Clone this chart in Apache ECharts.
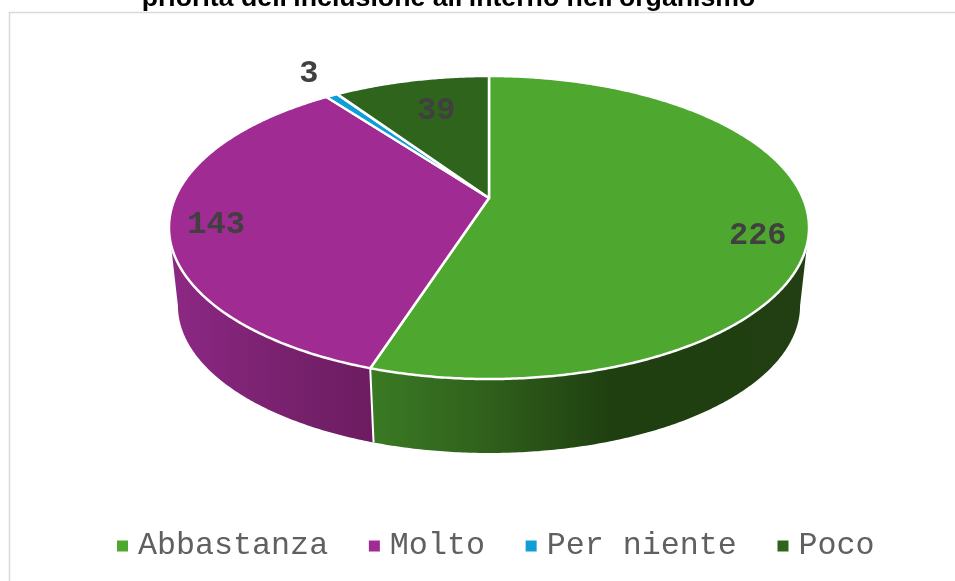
<!DOCTYPE html>
<html>
<head>
<meta charset="utf-8">
<style>html,body{margin:0;padding:0;background:#fff;overflow:hidden}#c{width:955px;height:581px}</style>
<script src="https://cdn.jsdelivr.net/npm/echarts@6/dist/echarts.min.js"></script>
</head>
<body>
<div id="c"></div>
<script>
var titleText = "priorità dell'inclusione all'interno nell'organismo";
var categories = ['Abbastanza', 'Molto', 'Per niente', 'Poco'];
var values = [226, 143, 3, 39];
var colors = ['#4ea72e', '#a02b93', '#0f9ed5', '#2e641c'];

// Projection of the tilted disc (perspective), in pixels
var view = { cx: 489, topY: 198, bottomY: 277, a: 145.8, b: 313.9, k: 0.1947, baseScale: 0.972 };
// Label nudges from the rim point of each slice's middle angle
var labelNudge = [[-51, 14], [47, 2], [-23, -22], [25, 30]];
// Wall shading across x, for the slices that show a wall
var wallShade = [
  { from: 372, to: 800, stops: [[0, '#3a7a24'], [0.28, '#2f5f1b'], [0.56, '#1f3f10'], [1, '#213f12']] },
  { from: 172, to: 376, stops: [[0, '#8c2884'], [0.5, '#7a2270'], [1, '#6c1c60']] }
];

var total = values.reduce(function (s, v) { return s + v; }, 0);
var silhouette = Math.acos(-view.k) * 180 / Math.PI;
function rim(deg, base) {
  var t = deg * Math.PI / 180, s = Math.sin(t), c = Math.cos(t), d = 1 + view.k * c;
  var m = base ? view.baseScale : 1;
  return [view.cx + m * view.b * s / d, (base ? view.bottomY : view.topY) - m * view.a * c / d];
}
function arc(a0, a1, base) {
  var pts = [], n = Math.max(2, Math.ceil(Math.abs(a1 - a0) * 2));
  for (var i = 0; i <= n; i++) pts.push(rim(a0 + (a1 - a0) * i / n, base));
  return pts;
}
function makeRender(idx) {
  var before = values.slice(0, idx).reduce(function (s, v) { return s + v; }, 0);
  var a0 = before / total * 360, a1 = (before + values[idx]) / total * 360;
  return function () {
    var kids = [];
    var w0 = Math.max(a0, silhouette), w1 = Math.min(a1, 360 - silhouette);
    if (w1 > w0 && wallShade[idx]) {
      var sh = wallShade[idx];
      var poly = arc(w0, w1, false).concat(arc(w1, w0, true));
      kids.push({
        type: 'polygon', shape: { points: poly },
        style: { fill: new echarts.graphic.LinearGradient(sh.from, 0, sh.to, 0,
          sh.stops.map(function (p) { return { offset: p[0], color: p[1] }; }), true) }
      });
      if (a0 >= silhouette) {
        kids.push({ type: 'line', shape: { x1: rim(a0)[0], y1: rim(a0)[1], x2: rim(a0, true)[0], y2: rim(a0, true)[1] },
          style: { stroke: '#fff', lineWidth: 2 } });
      }
    }
    kids.push({
      type: 'polygon',
      shape: { points: [[view.cx, view.topY]].concat(arc(a0, a1, false)) },
      style: { fill: colors[idx], stroke: '#fff', lineWidth: 2.5, lineJoin: 'round' }
    });
    var mid = rim((a0 + a1) / 2);
    kids.push({
      type: 'text', z2: 100,
      style: {
        x: mid[0] + labelNudge[idx][0], y: mid[1] + labelNudge[idx][1],
        text: String(values[idx]), align: 'center', verticalAlign: 'middle',
        fill: '#404040', font: 'bold 32px "Liberation Mono"'
      }
    });
    return { type: 'group', children: kids };
  };
}

var chart = echarts.init(document.getElementById('c'), null, { renderer: 'canvas' });
chart.setOption({
  animation: false,
  title: {
    text: titleText, left: 443.5, textAlign: 'center', top: -20,
    textStyle: { fontFamily: 'Liberation Sans', fontWeight: 'bold', fontSize: 26.7, color: '#000' }
  },
  legend: {
    left: 112, top: 525, icon: 'rect', itemWidth: 11, itemHeight: 11, itemGap: 40.7,
    data: categories, selectedMode: false,
    textStyle: { fontFamily: 'Liberation Mono', fontSize: 31.7, color: '#606060', padding: [0, 0, 0, 5] }
  },
  graphic: [{
    type: 'rect', silent: true, z: -1,
    shape: { x: 9.5, y: 12.5, width: 1000, height: 1000 },
    style: { fill: 'none', stroke: '#d9d9d9', lineWidth: 1.5 }
  }],
  series: categories.map(function (name, i) {
    return {
      type: 'custom', name: name, coordinateSystem: 'none', silent: true,
      itemStyle: { color: colors[i] },
      data: [[values[i]]],
      renderItem: makeRender(i)
    };
  })
});
</script>
</body>
</html>
